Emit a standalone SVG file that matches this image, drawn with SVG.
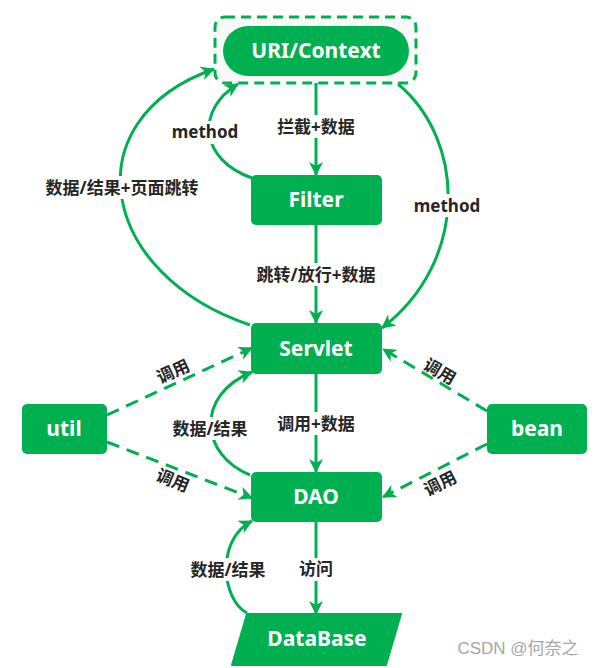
<svg xmlns="http://www.w3.org/2000/svg" width="598" height="668" viewBox="0 0 598 668">
<defs>
<style>
.node{fill:#00B050;}
.nt{fill:#ffffff;font-family:"Noto Sans","Noto Sans CJK SC",sans-serif;font-weight:bold;font-size:21px;text-anchor:middle;dominant-baseline:central;}
.lbl{fill:#262626;font-family:"Noto Sans","Noto Sans CJK SC",sans-serif;font-weight:bold;font-size:17px;text-anchor:middle;dominant-baseline:central;}
.ln{fill:none;stroke:#00B050;stroke-width:3;}
.dash{stroke-dasharray:13 8;}
.bg{fill:#ffffff;}
</style>
<marker id="ah" viewBox="0 0 14 14" markerUnits="userSpaceOnUse" markerWidth="14" markerHeight="14" refX="13" refY="7" orient="auto">
<path d="M0,0 L14,7 L0,14 L4,7 z" fill="#00B050"/>
</marker>
</defs>
<rect width="598" height="668" fill="#ffffff"/>

<g id="connectors">
<line class="ln" x1="316" y1="76" x2="316" y2="175" marker-end="url(#ah)"/>
<line class="ln" x1="316" y1="225" x2="316" y2="323" marker-end="url(#ah)"/>
<line class="ln" x1="316" y1="374" x2="316" y2="472" marker-end="url(#ah)"/>
<line class="ln" x1="316" y1="522" x2="316" y2="614" marker-end="url(#ah)"/>
<path class="ln" d="M252,178 C200,160 195,110 238,84" marker-end="url(#ah)"/>
<path class="ln" d="M250,325 C100,275 70,120 214,69" marker-end="url(#ah)"/>
<path class="ln" d="M398,84 C465,140 470,260 382,328" marker-end="url(#ah)"/>
<path class="ln" d="M250,475 C200,455 195,395 252,372" marker-end="url(#ah)"/>
<path class="ln" d="M247,613 C222,600 215,540 252,521" marker-end="url(#ah)"/>
<line class="ln dash" x1="107" y1="415" x2="252" y2="348" marker-end="url(#ah)"/>
<line class="ln dash" x1="107" y1="442" x2="252" y2="498" marker-end="url(#ah)"/>
<line class="ln dash" x1="487" y1="411" x2="383" y2="349" marker-end="url(#ah)"/>
<line class="ln dash" x1="487" y1="444" x2="383" y2="497" marker-end="url(#ah)"/>

<rect class="bg" x="273" y="115" width="86" height="23"/>
<text class="lbl" x="316" y="126">拦截+数据</text>
<rect class="bg" x="250" y="263" width="132" height="23"/>
<text class="lbl" x="316" y="274">跳转/放行+数据</text>
<rect class="bg" x="273" y="412" width="86" height="23"/>
<text class="lbl" x="316" y="423">调用+数据</text>
<rect class="bg" x="297" y="558" width="38" height="23"/>
<text class="lbl" x="316" y="568">访问</text>
<rect class="bg" x="169" y="121" width="72" height="23"/>
<text class="lbl" x="205" y="131">method</text>
<rect class="bg" x="411" y="194" width="72" height="23"/>
<text class="lbl" x="447" y="205">method</text>
<rect class="bg" x="40" y="176" width="164" height="23"/>
<text class="lbl" x="122" y="187">数据/结果+页面跳转</text>
<rect class="bg" x="169" y="417" width="82" height="23"/>
<text class="lbl" x="210" y="428">数据/结果</text>
<rect class="bg" x="187" y="558" width="82" height="23"/>
<text class="lbl" x="228" y="569">数据/结果</text>
<text class="lbl" transform="translate(173,371) rotate(-25)">调用</text>
<text class="lbl" transform="translate(173,480) rotate(22)">调用</text>
<text class="lbl" transform="translate(440,371) rotate(30)">调用</text>
<text class="lbl" transform="translate(440,483) rotate(-27)">调用</text>
</g>

<g id="uri-context">
<rect x="215" y="17" width="201" height="66" rx="10" fill="#f7faf8" stroke="#00B050" stroke-width="3" stroke-dasharray="10 6"/>
<rect class="node" x="223" y="26" width="186" height="50" rx="25"/>
<text class="nt" x="316" y="50">URI/Context</text>
</g>
<g id="filter">
<rect class="node" x="251" y="175" width="131" height="50" rx="5"/>
<text class="nt" x="316" y="199">Filter</text>
</g>
<g id="servlet">
<rect class="node" x="251" y="323" width="131" height="51" rx="5"/>
<text class="nt" x="316" y="348">Servlet</text>
</g>
<g id="dao">
<rect class="node" x="251" y="472" width="131" height="50" rx="5"/>
<text class="nt" x="316" y="496">DAO</text>
</g>
<g id="util">
<rect class="node" x="22" y="404" width="85" height="50" rx="5"/>
<text class="nt" x="64" y="428">util</text>
</g>
<g id="bean">
<rect class="node" x="487" y="404" width="100" height="50" rx="5"/>
<text class="nt" x="537" y="428">bean</text>
</g>
<g id="database">
<polygon class="node" points="247,614 401,614 386,665 232,665" stroke="#00B050" stroke-width="2" stroke-linejoin="round"/>
<text class="nt" x="317" y="638">DataBase</text>
</g>
<text x="518" y="648" font-family="'Liberation Sans','Noto Sans CJK SC',sans-serif" font-size="17" fill="#a6a6a6" text-anchor="middle" dominant-baseline="central">CSDN @何奈之</text>
</svg>
